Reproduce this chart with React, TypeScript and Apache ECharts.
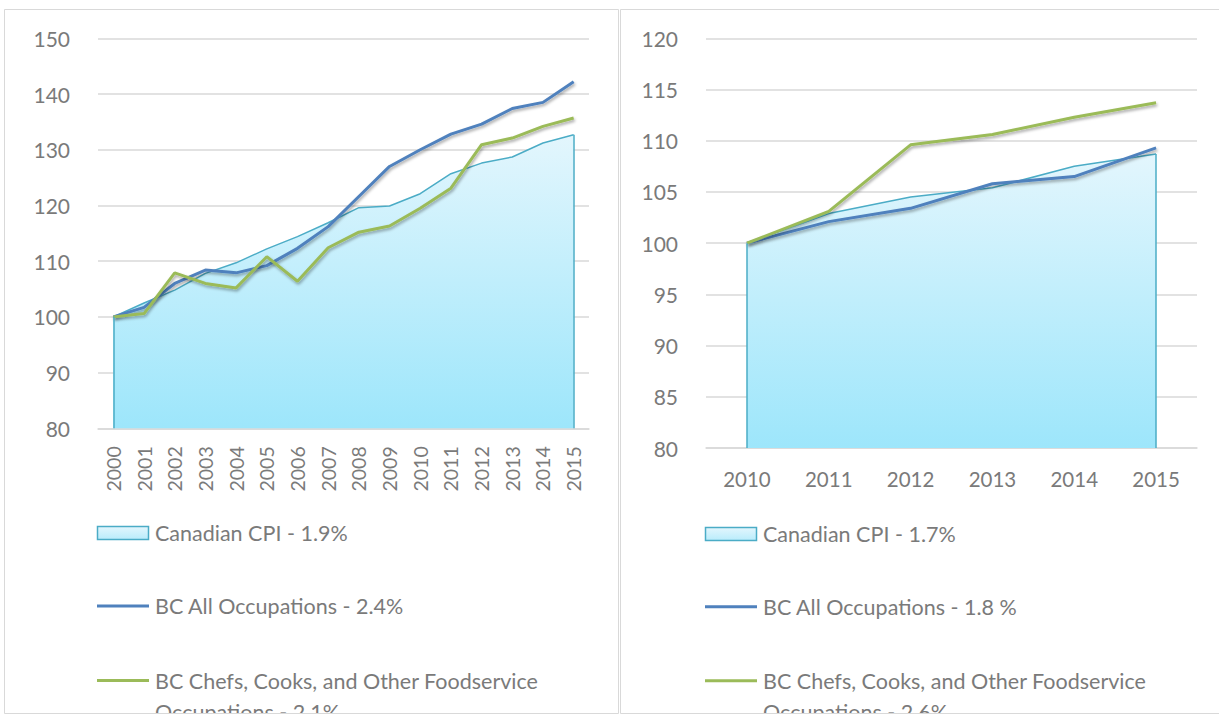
import React, { useEffect, useRef } from "react";
import * as echarts from "echarts";

const YEARS_A = ["2000", "2001", "2002", "2003", "2004", "2005", "2006", "2007", "2008", "2009", "2010", "2011", "2012", "2013", "2014", "2015"];
const CPI_A = [100, 102.5, 104.8, 107.8, 109.7, 112.2, 114.4, 116.9, 119.6, 119.9, 122.1, 125.7, 127.6, 128.7, 131.2, 132.7];
const ALL_A = [100, 101.7, 106.0, 108.4, 107.9, 109.2, 112.3, 116.2, 121.6, 127.0, 130.0, 132.8, 134.6, 137.4, 138.5, 142.2];
const FOOD_A = [100, 100.6, 107.9, 106.0, 105.2, 110.8, 106.4, 112.4, 115.2, 116.3, 119.5, 123.1, 130.9, 132.1, 134.2, 135.7];

const YEARS_B = ["2010", "2011", "2012", "2013", "2014", "2015"];
const CPI_B = [100, 102.9, 104.5, 105.4, 107.5, 108.7];
const ALL_B = [100, 102.1, 103.4, 105.8, 106.5, 109.3];
const FOOD_B = [100, 103.1, 109.6, 110.6, 112.3, 113.7];

const LEGEND_A = ["Canadian CPI - 1.9%", "BC All Occupations - 2.4%", "BC Chefs, Cooks, and Other Foodservice\nOccupations - 2.1%"];
const LEGEND_B = ["Canadian CPI - 1.7%", "BC All Occupations - 1.8 %", "BC Chefs, Cooks, and Other Foodservice\nOccupations - 2.6%"];

const FONT = "Lato, 'Open Sans', sans-serif";
const TEXT = "#7a7a7a";
const GRID = "#d9d9d9";
const TEAL = "#4bacc6";
const BLUE = "#4f81bd";
const GREEN = "#9bbb59";

const areaFill = () =>
  new echarts.graphic.LinearGradient(0, 0, 0, 1, [
    { offset: 0, color: "#e3f6fd" },
    { offset: 1, color: "#9de6fb" },
  ]);

const shadow = { shadowColor: "rgba(0,0,0,0.35)", shadowBlur: 3, shadowOffsetX: 1, shadowOffsetY: 2 };

function buildSeries(idx: number, years: string[], cpi: number[], all: number[], food: number[], names: string[]) {
  const last = years.length - 1;
  return [
    {
      name: names[0],
      type: "line",
      xAxisIndex: idx,
      yAxisIndex: idx,
      data: cpi,
      symbol: "none",
      lineStyle: { color: TEAL, width: 1.5 },
      areaStyle: { color: areaFill(), origin: "start", opacity: 1 },
      markLine: {
        silent: true,
        symbol: "none",
        label: { show: false },
        lineStyle: { color: TEAL, width: 1.5, type: "solid" },
        data: [
          [{ coord: [years[0], 80] }, { coord: [years[0], cpi[0]] }],
          [{ coord: [years[last], 80] }, { coord: [years[last], cpi[last]] }],
        ],
      },
      z: 2,
    },
    {
      name: names[1],
      type: "line",
      xAxisIndex: idx,
      yAxisIndex: idx,
      data: all,
      symbol: "none",
      lineStyle: { color: BLUE, width: 3, ...shadow },
      z: 3,
    },
    {
      name: names[2],
      type: "line",
      xAxisIndex: idx,
      yAxisIndex: idx,
      data: food,
      symbol: "none",
      lineStyle: { color: GREEN, width: 3, ...shadow },
      z: 4,
    },
  ];
}

function legendGraphics(x: number, names: string[], ys: number[]) {
  const els: any[] = [];
  els.push({
    type: "rect",
    shape: { x: x + 0.5, y: ys[0] - 6.5, width: 51, height: 13 },
    style: { fill: new echarts.graphic.LinearGradient(0, 0, 0, 1, [{ offset: 0, color: "#e3f6fd" }, { offset: 1, color: "#b9ecfb" }]), stroke: TEAL, lineWidth: 1.5 },
    z: 10,
  });
  els.push({ type: "line", shape: { x1: x, y1: ys[1], x2: x + 52, y2: ys[1] }, style: { stroke: BLUE, lineWidth: 3 }, z: 10 });
  els.push({ type: "line", shape: { x1: x, y1: ys[2], x2: x + 52, y2: ys[2] }, style: { stroke: GREEN, lineWidth: 3 }, z: 10 });
  for (let i = 0; i < 3; i++) {
    els.push({
      type: "text",
      x: x + 58,
      y: ys[i] - 15.5,
      style: { text: names[i], fill: TEXT, font: `21.5px ${FONT}`, lineHeight: 31, verticalAlign: "top", align: "left" },
      z: 10,
    });
  }
  return els;
}

export default function App() {
  const ref = useRef<HTMLDivElement>(null);
  useEffect(() => {
    document.body.style.margin = "0";
    const chart = echarts.init(ref.current!, null, { renderer: "svg" });
    const yAxisCommon = {
      type: "value",
      axisLine: { show: false },
      axisTick: { show: false },
      splitLine: { lineStyle: { color: GRID, width: 1.5 } },
      axisLabel: { color: TEXT, fontSize: 21, fontFamily: FONT, margin: 28 },
    };
    const option: any = {
      animation: false,
      backgroundColor: "#ffffff",
      textStyle: { fontFamily: FONT },
      grid: [
        { left: 98, top: 38.3, width: 491, height: 390 },
        { left: 706, top: 38.3, width: 491, height: 409.7 },
      ],
      xAxis: [
        {
          type: "category",
          gridIndex: 0,
          data: YEARS_A,
          boundaryGap: true,
          axisTick: { show: false },
          axisLine: { lineStyle: { color: GRID, width: 1.5 } },
          axisLabel: { rotate: 90, color: TEXT, fontSize: 19.5, fontFamily: FONT, margin: 18, interval: 0 },
        },
        {
          type: "category",
          gridIndex: 1,
          data: YEARS_B,
          boundaryGap: true,
          axisTick: { show: false },
          axisLine: { lineStyle: { color: GRID, width: 1.5 } },
          axisLabel: { color: TEXT, fontSize: 20.5, fontFamily: FONT, margin: 20, interval: 0 },
        },
      ],
      yAxis: [
        { ...yAxisCommon, gridIndex: 0, min: 80, max: 150, interval: 10 },
        { ...yAxisCommon, gridIndex: 1, min: 80, max: 120, interval: 5 },
      ],
      series: [
        ...buildSeries(0, YEARS_A, CPI_A, ALL_A, FOOD_A, LEGEND_A),
        ...buildSeries(1, YEARS_B, CPI_B, ALL_B, FOOD_B, LEGEND_B),
      ],
      graphic: [
        ...legendGraphics(97, LEGEND_A, [533, 606, 680.5]),
        ...legendGraphics(705, LEGEND_B, [534, 606.7, 680.7]),
        { type: "rect", shape: { x: 0, y: 713.5, width: 1219, height: 2 }, style: { fill: "#ffffff" }, z: 20 },
        { type: "rect", shape: { x: 4.5, y: 9.5, width: 614, height: 704 }, style: { fill: "none", stroke: GRID, lineWidth: 1 }, z: 21 },
        { type: "rect", shape: { x: 620.5, y: 9.5, width: 610, height: 704 }, style: { fill: "none", stroke: GRID, lineWidth: 1 }, z: 21 },
      ],
    };
    chart.setOption(option);
    return () => chart.dispose();
  }, []);
  return <div ref={ref} style={{ width: 1219, height: 715 }} />;
}
